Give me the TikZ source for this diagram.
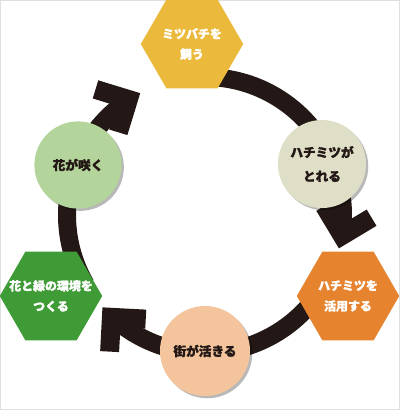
\documentclass[tikz,border=0pt]{standalone}
\usepackage{fontspec}
\newfontfamily\jp{Noto Sans CJK JP}[BoldFeatures={FakeBold=1.6}]
\usetikzlibrary{shapes.geometric,shadows}
\definecolor{ringc}{HTML}{231815}
\definecolor{hexyellow}{HTML}{EBB93B}
\definecolor{hexorange}{HTML}{E6832F}
\definecolor{hexgreen}{HTML}{3E9B35}
\definecolor{circbeige}{HTML}{DFDFC7}
\definecolor{circpeach}{HTML}{F4C59D}
\definecolor{circgreen}{HTML}{B3D49A}
% point on the chevron: angle, forward offset, radial offset
\newcommand\chv[3]{({205+138*cos(#1)-(#2)*sin(#1)+(#3)*cos(#1)},{215+138*sin(#1)+(#2)*cos(#1)+(#3)*sin(#1)})}
\begin{document}
\begin{tikzpicture}[x=0.025cm,y=-0.025cm,
  lbl/.style={font=\jp\bfseries\fontsize{8.5}{14.5}\selectfont, align=center},
  clbl/.style={font=\jp\bfseries\fontsize{9}{17}\selectfont, align=center},
  hexa/.style={regular polygon, regular polygon sides=6, minimum size=2.56cm,
     inner sep=0pt},
  hexlbl/.style={label={[lbl, text=white]center:#1}},
  circ/.style={circle, inner sep=0pt, text=ringc, clbl,
     drop shadow={shadow xshift=1.6pt, shadow yshift=-1.6pt, opacity=0.28, fill=black}},
  band/.style={draw=ringc, line width=0.45cm},
  chev/.style={fill=ringc}
]
\useasboundingbox (0,0) rectangle (400,410);
\draw[gray!25, line width=0.5pt] (0.5,0.5) rectangle (399.5,409.5);

% ring arcs
\draw[band] plot[domain=265:363, samples=60] ({205+138*cos(\x)},{215+138*sin(\x)});
\draw[band] plot[domain=30:127, samples=60] ({205+138*cos(\x)},{215+138*sin(\x)});
\draw[band] plot[domain=150:231, samples=60] ({205+138*cos(\x)},{215+138*sin(\x)});

% chevron arrow heads
\foreach \a in {374,138,242}{
  \fill[chev] \chv{\a}{0}{0} -- \chv{\a}{-31}{31} -- \chv{\a}{-44.4}{17.6} -- \chv{\a}{-26.9}{0}
     -- \chv{\a}{-44.4}{-17.6} -- \chv{\a}{-31}{-31} -- cycle;
}

% nodes
\node[hexa, fill=hexyellow, hexlbl={ミツバチを\\飼う}] (bees) at (192,44) {};
\node[circ, fill=circbeige, minimum size=2.2cm] (honey) at (322,164) {ハチミツが\\とれる};
\node[hexa, fill=hexorange, hexlbl={ハチミツを\\活用する}] (use) at (348,296) {};
\node[circ, fill=circpeach, minimum size=2.25cm] (town) at (205,351) {街が活きる};
\node[hexa, fill=hexgreen, hexlbl={花と緑の環境を\\つくる}] (green) at (51,296) {};
\node[circ, fill=circgreen, minimum size=2.18cm] (flower) at (78,165) {花が咲く};
\end{tikzpicture}
\end{document}
